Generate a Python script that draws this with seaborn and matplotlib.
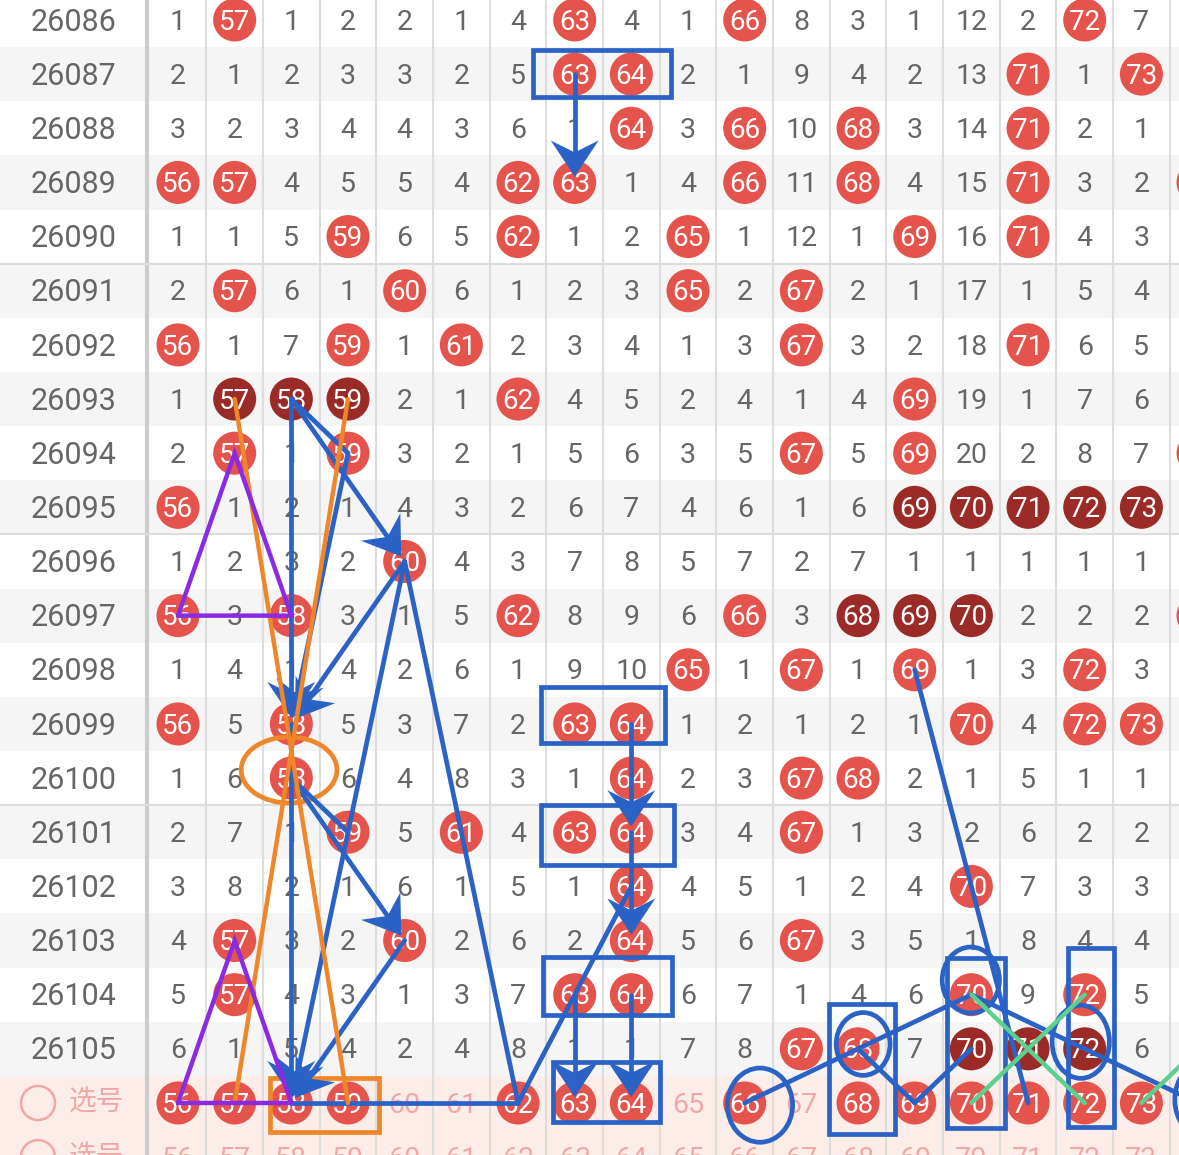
import numpy as np
import pandas as pd
import seaborn as sns
import matplotlib.pyplot as plt
from matplotlib.patches import Polygon, Rectangle, Ellipse

# ---- data -------------------------------------------------------------
numbers = list(range(56, 74))
periods = list(range(26086, 26106))

# miss counts per period, 0 = drawn (ball)
misses = [
    [1, 0, 1, 2, 2, 1, 4, 0, 4, 1, 0, 8, 3, 1, 12, 2, 0, 7],
    [2, 1, 2, 3, 3, 2, 5, 0, 0, 2, 1, 9, 4, 2, 13, 0, 1, 0],
    [3, 2, 3, 4, 4, 3, 6, 1, 0, 3, 0, 10, 0, 3, 14, 0, 2, 1],
    [0, 0, 4, 5, 5, 4, 0, 0, 1, 4, 0, 11, 0, 4, 15, 0, 3, 2],
    [1, 1, 5, 0, 6, 5, 0, 1, 2, 0, 1, 12, 1, 0, 16, 0, 4, 3],
    [2, 0, 6, 1, 0, 6, 1, 2, 3, 0, 2, 0, 2, 1, 17, 1, 5, 4],
    [0, 1, 7, 0, 1, 0, 2, 3, 4, 1, 3, 0, 3, 2, 18, 0, 6, 5],
    [1, 0, 0, 0, 2, 1, 0, 4, 5, 2, 4, 1, 4, 0, 19, 1, 7, 6],
    [2, 0, 1, 0, 3, 2, 1, 5, 6, 3, 5, 0, 5, 0, 20, 2, 8, 7],
    [0, 1, 2, 1, 4, 3, 2, 6, 7, 4, 6, 1, 6, 0, 0, 0, 0, 0],
    [1, 2, 3, 2, 0, 4, 3, 7, 8, 5, 7, 2, 7, 1, 1, 1, 1, 1],
    [0, 3, 0, 3, 1, 5, 0, 8, 9, 6, 0, 3, 0, 0, 0, 2, 2, 2],
    [1, 4, 1, 4, 2, 6, 1, 9, 10, 0, 1, 0, 1, 0, 1, 3, 0, 3],
    [0, 5, 0, 5, 3, 7, 2, 0, 0, 1, 2, 1, 2, 1, 0, 4, 0, 0],
    [1, 6, 0, 6, 4, 8, 3, 1, 0, 2, 3, 0, 0, 2, 1, 5, 1, 1],
    [2, 7, 1, 0, 5, 0, 4, 0, 0, 3, 4, 0, 1, 3, 2, 6, 2, 2],
    [3, 8, 2, 1, 6, 1, 5, 1, 0, 4, 5, 1, 2, 4, 0, 7, 3, 3],
    [4, 0, 3, 2, 0, 2, 6, 2, 0, 5, 6, 0, 3, 5, 1, 8, 4, 4],
    [5, 0, 4, 3, 1, 3, 7, 0, 0, 6, 7, 1, 4, 6, 0, 9, 0, 5],
    [6, 1, 5, 4, 2, 4, 8, 1, 1, 7, 8, 0, 0, 7, 0, 0, 0, 6],
]
# number 74 sits just past the right edge; only its balls peek in
edge_hits = [26089, 26094, 26097]
picked = [56, 57, 58, 59, 62, 63, 64, 66, 68, 69, 70, 71, 72, 73]
pick_label = '选号'

RED = '#e4534c'
DARK = '#9b2b27'
GRAY = '#666666'
PINK = '#f2a7a7'
BLUE = '#2b62c6'
ORANGE = '#f0862a'
PURPLE = '#8a2be2'
GREEN = '#5dcf8e'

# ---- figure -----------------------------------------------------------
sns.set_style('white')
plt.rcParams['font.family'] = ['Roboto', 'Noto Sans CJK SC', 'DejaVu Sans']

fig = plt.figure(figsize=(11.79, 11.55), dpi=100)
ax = fig.add_axes([0, 0, 1, 1])
X0, Y0 = 52.859, -0.369
PX, PY = 56.67, 54.15  # pixels per column / row
TY = 0.04              # small nudge so digits sit on the row centre
ax.set_xlim(X0, X0 + 1179 / PX)
ax.set_ylim(Y0 + 1155 / PY, Y0)
ax.axis('off')

n_rows = len(periods)
for r in range(n_rows + 2):
    if r >= n_rows:
        bg = '#fdede9'
    else:
        bg = '#f5f5f5' if periods[r] % 2 else 'white'
    ax.axhspan(r - 0.5, r + 0.5, color=bg, zorder=0, lw=0)

for n in numbers + [74]:
    ax.axvline(n + 0.5, color='#dddddd', lw=1.5, zorder=1)
ax.axvline(55.45, color='#cccccc', lw=3, zorder=1)
for yb in [4.5, 9.5, 14.5]:
    ax.axhline(yb, color='#dddddd', lw=1.5, zorder=1)

# ---- table text and balls --------------------------------------------
records = []
for r, (p, row) in enumerate(zip(periods, misses)):
    ax.text(54.15, r + TY, str(p), ha='center', va='center', fontsize=22,
            color=GRAY, zorder=2)
    hits = [n for n, v in zip(numbers, row) if v == 0]
    for n, v in zip(numbers, row):
        if v == 0:
            run = 1
            k = n - 1
            while k in hits:
                run += 1
                k -= 1
            k = n + 1
            while k in hits:
                run += 1
                k += 1
            records.append({'num': n, 'row': r, 'kind': 'dark' if run >= 3 else 'red'})
        else:
            ax.text(n, r + TY, str(v), ha='center', va='center', fontsize=20.5,
                    color=GRAY, zorder=2)
    if p in edge_hits:
        records.append({'num': 74, 'row': r, 'kind': 'red'})

sel_row = n_rows
for n in numbers:
    if n in picked:
        records.append({'num': n, 'row': sel_row, 'kind': 'red'})
    else:
        ax.text(n, sel_row + TY, str(n), ha='center', va='center', fontsize=20.5,
                color=PINK, zorder=2)
    ax.text(n, sel_row + 1 + TY, str(n), ha='center', va='center', fontsize=20.5,
            color=PINK, zorder=2)

for rr in [sel_row, sel_row + 1]:
    ax.add_patch(Ellipse((53.53, rr), 0.6, 0.63, fill=False, ec=PINK, lw=1.8, zorder=2))
    ax.text(54.08, rr, pick_label, ha='left', va='center', fontsize=20,
            color=PINK, family=['Noto Sans CJK SC'], zorder=2)

balls = pd.DataFrame(records)
sns.scatterplot(data=balls, x='num', y='row', hue='kind',
                palette={'red': RED, 'dark': DARK}, s=960, linewidth=0,
                legend=False, ax=ax, zorder=3)
for _, b in balls.iterrows():
    ax.text(b['num'], b['row'] + TY, str(b['num']), ha='center', va='center',
            fontsize=20, color='white', zorder=4)
ax.set_xlim(X0, X0 + 1179 / PX)
ax.set_ylim(Y0 + 1155 / PY, Y0)


# ---- hand drawn marks --------------------------------------------------
def seg(a, b, color=BLUE, lw=3.4):
    ax.plot([a[0], b[0]], [a[1], b[1]], color=color, lw=lw,
            solid_capstyle='round', zorder=6)


def arrow(a, b, color=BLUE, lw=3.4, length=36, width=24, notch=12, shrink=6):
    p1 = np.array([a[0] * PX, a[1] * PY])
    p2 = np.array([b[0] * PX, b[1] * PY])
    u = (p2 - p1) / np.linalg.norm(p2 - p1)
    q = np.array([-u[1], u[0]])
    tip = p2 - shrink * u
    back = tip - length * u
    mid = tip - (length - notch) * u
    pts = np.array([tip, back + width * q, mid, back - width * q])
    pts = pts / np.array([PX, PY])
    ax.plot([a[0], mid[0] / PX], [a[1], mid[1] / PY], color=color, lw=lw,
            solid_capstyle='round', zorder=6)
    ax.add_patch(Polygon(pts, closed=True, color=color, lw=0, zorder=6))


def box(x0, x1, y0, y1, color=BLUE, lw=3.4):
    ax.add_patch(Rectangle((x0, y0), x1 - x0, y1 - y0, fill=False,
                           ec=color, lw=lw, zorder=6))


def ring(cx, cy, w, h, color=BLUE, lw=3.4):
    ax.add_patch(Ellipse((cx, cy), w, h, fill=False, ec=color, lw=lw, zorder=6))


# boxes around the 63/64 pair
box(62.26, 64.70, 0.55, 1.42)
box(62.41, 64.59, 12.32, 13.35)
box(62.41, 64.75, 14.50, 15.61)
box(62.44, 64.72, 17.30, 18.38)
box(62.62, 64.51, 19.24, 20.35)
# columns on the right
box(67.49, 68.65, 18.17, 20.57)
box(69.57, 70.59, 17.32, 20.46)
box(71.70, 72.52, 17.14, 20.44)
box(57.62, 59.55, 19.54, 20.54, color=ORANGE)

ring(66.27, 20.04, 1.15, 1.37)
ring(68.09, 18.91, 0.95, 1.16)
ring(69.99, 17.73, 1.01, 1.22)
ring(71.93, 18.87, 1.01, 1.35)
ring(74.12, 19.94, 1.06, 1.39)
ring(57.96, 13.85, 1.69, 1.22, color=ORANGE)

# arrows
arrow((63, 1), (63, 3))
arrow((58, 7), (60, 10))
arrow((59, 8), (58, 13))
arrow((60, 10), (58, 13))
arrow((58, 7), (58, 13))
arrow((58, 14), (60, 17))
arrow((60, 10), (58, 20))
arrow((60, 17), (58, 20))
arrow((58, 14), (58, 20))
arrow((64, 13), (64, 15))
arrow((64, 15), (64, 17))
arrow((64, 18), (64, 20))
arrow((63, 18), (63, 20))

# plain blue lines
seg((58, 7), (59, 8))
seg((58, 13), (58, 14))
seg((58, 14), (59, 15))
seg((60, 10), (62, 20))
seg((58, 20), (62, 20))
seg((62, 20), (64, 16))
seg((69, 12), (71, 20))
for a, b in [((66, 20), (68, 19)), ((68, 19), (70, 18)), ((70, 18), (72, 19)),
             ((72, 19), (74, 20)), ((68, 19), (69, 20)), ((69, 20), (70, 19))]:
    seg(a, b)

# orange cross
seg((57, 7), (59, 20), color=ORANGE, lw=3.2)
seg((59, 7), (57, 20), color=ORANGE, lw=3.2)

# purple triangles
for top in [8, 17]:
    base = top + 3
    tri = [(56, base), (57, top), (58, base), (56, base)]
    ax.plot([t[0] for t in tri], [t[1] for t in tri], color=PURPLE, lw=3.2,
            solid_joinstyle='miter', zorder=6)

# green crosses
seg((70, 20), (72, 18), color=GREEN, lw=3.2)
seg((70, 18), (72, 20), color=GREEN, lw=3.2)
seg((73, 20), (75, 18), color=GREEN, lw=3.2)

fig.savefig('out.png', dpi=100)
